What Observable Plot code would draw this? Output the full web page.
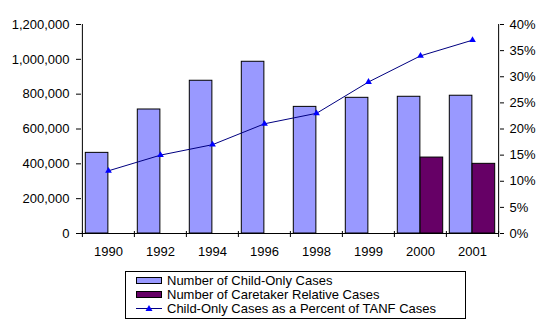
<!DOCTYPE html>
<html>
<head>
<meta charset="utf-8">
<script src="https://cdn.jsdelivr.net/npm/d3@7"></script>
<script src="https://cdn.jsdelivr.net/npm/@observablehq/plot@0.6"></script>
<style>
  html, body { margin: 0; padding: 0; background: #fff; }
  #wrap { position: relative; width: 549px; height: 326px; font-family: Arial, "Liberation Sans", sans-serif; }
  #legend { position: absolute; left: 125px; top: 271px; width: 341px; height: 48px; box-sizing: border-box;
            border: 1px solid #000; font-size: 13px; padding-top: 1px; }
  .row { display: flex; align-items: center; height: 14px; }
  .sw { width: 26px; height: 7px; margin-left: 10px; margin-right: 5px; box-sizing: border-box; border: 1px solid #000; }
  .ln { width: 26px; height: 13px; margin-left: 10px; margin-right: 5px; }
</style>
</head>
<body>
<div id="wrap"></div>
<script>
const years = ["1990", "1992", "1994", "1996", "1998", "1999", "2000", "2001"];
const childOnlyCases = [463000, 712000, 877000, 986000, 727000, 779000, 785000, 791000];
const caretakerCases = [null, null, null, null, null, null, 436000, 400000];
const childOnlyPct = [12, 15, 17, 21, 23, 29, 34, 37];
const leftTicks = [0, 200000, 400000, 600000, 800000, 1000000, 1200000];
const rightTicks = [0, 5, 10, 15, 20, 25, 30, 35, 40];
const seriesNames = ["Number of Child-Only Cases", "Number of Caretaker Relative Cases", "Child-Only Cases as a Percent of TANF Cases"];
const colors = ["#9999FF", "#660066", "#000080", "#0000FF"];

const yMax = 1200000, pctMax = 40, k = yMax / pctMax;
const rows = years.map((y, i) => ({year: y, child: childOnlyCases[i], caretaker: caretakerCases[i], pct: childOnlyPct[i]}));
const W = 549, H = 265, mL = 81, mR = 50, mT = 24, mB = 32;
const half = (W - mL - mR) / years.length / 2;

const chart = Plot.plot({
  width: W, height: H,
  marginLeft: mL, marginRight: mR, marginTop: mT, marginBottom: mB,
  style: {fontFamily: "Arial, 'Liberation Sans', sans-serif", fontSize: "13px", background: "#fff", color: "#000"},
  x: {domain: years, padding: 0, label: null},
  y: {domain: [0, yMax], label: null},
  marks: [
    Plot.barY(rows, {x: "year", y: "child", fill: colors[0], stroke: "#000", strokeWidth: 1, insetLeft: 3.3, insetRight: half}),
    Plot.barY(rows.filter(d => d.caretaker != null), {x: "year", y: "caretaker", fill: colors[1], stroke: "#000", strokeWidth: 1, insetLeft: half, insetRight: 3.3}),
    Plot.ruleY([0], {stroke: "#000"}),
    Plot.ruleX([years[0]], {dx: -half, stroke: "#000"}),
    Plot.ruleX([years[years.length - 1]], {dx: half, stroke: "#000"}),
    Plot.ruleX(years, {dx: -half, stroke: "#000", insetTop: H - mT - mB - 2, insetBottom: -4}),
    Plot.ruleX([years[years.length - 1]], {dx: half, stroke: "#000", insetTop: H - mT - mB - 2, insetBottom: -4}),
    Plot.line(rows, {x: "year", y: d => d.pct * k, stroke: colors[2], strokeWidth: 1}),
    Plot.dot(rows, {x: "year", y: d => d.pct * k, symbol: "triangle", fill: colors[3], r: 2.5}),
    Plot.axisY({anchor: "left", ticks: leftTicks, tickFormat: d3.format(","), tickSize: 5, tickPadding: 7, label: null}),
    Plot.axisY({anchor: "right", ticks: rightTicks.map(p => p * k), tickFormat: v => Math.round(v / k) + "%", tickSize: 4, tickPadding: 6, label: null}),
    Plot.axisX({anchor: "bottom", tickSize: 0, tickPadding: 13, label: null})
  ]
});

const wrap = document.getElementById("wrap");
wrap.appendChild(chart);

const legend = document.createElement("div");
legend.id = "legend";
legend.innerHTML = `
  <div class="row"><div class="sw" style="background:${colors[0]}"></div><span>${seriesNames[0]}</span></div>
  <div class="row"><div class="sw" style="background:${colors[1]}"></div><span>${seriesNames[1]}</span></div>
  <div class="row"><svg class="ln" viewBox="0 0 26 13"><line x1="0" x2="26" y1="6.5" y2="6.5" stroke="${colors[2]}"/><path d="M13,3 L16.5,9 L9.5,9 Z" fill="${colors[3]}"/></svg><span>${seriesNames[2]}</span></div>`;
wrap.appendChild(legend);
</script>
</body>
</html>
